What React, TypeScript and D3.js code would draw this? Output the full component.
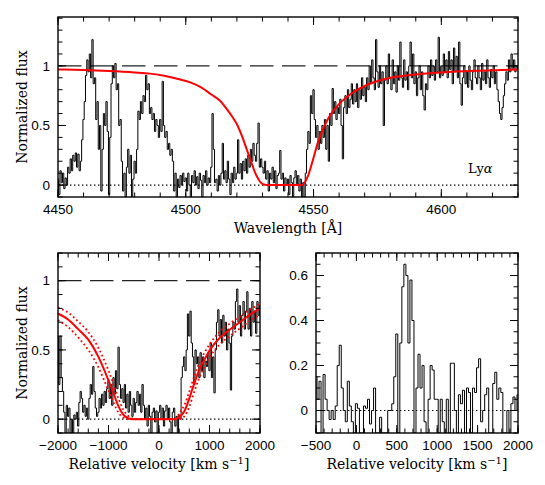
import React from "react";
import * as d3 from "d3";

// Observed spectrum, 0.5 A bins starting at 4450 A
const topStart = 4450;
const topStep = 0.5;
const topFluxBlue = [
  0.05, -0.08, 0.12, 0.02, 0.1, -0.03, 0.06, 0, 0.15, 0.1, 0.22, 0.12, 0.25, 0.2, 0.27, 0.15, 0.26, 0.12, 0.2, 0.38,
  0.55, 0.7, 0.92, 1.05, 0.95, 1.1, 0.9, 1.22, 0.85, 0.9, 0.55, 0.7, 0.3, 0.5, -0.05, 0.3, 0.6, 0.5, 0.7, 0.45,
  -0.08, 0.4, 0.85, 1.0, 0.9, 1.02, 0.8, 0.85, 0.5, 0.55, 0.2, -0.05, 0.1, -0.1, 0.15, 0.3, 0.1, 0.25, -0.1, 0.05,
  0.2, 0.1, 0.3, 0.62, 0.55, 0.7, 0.6, 0.75, 0.7, 0.92, 0.8, 0.85, 0.6, 0.65, 0.55, 0.6, 0.45, 0.55, 0.5, 0.4,
  0.55, 0.45, 0.87, 0.5, 0.4, 0.45, 0.3, 0.35, 0.25, 0.3, 0.2, -0.05, 0.1, -0.1, 0.05, -0.02, 0.08, 0, 0.1, 0.03,
  0.06, -0.05, 0.1, 0, -0.1, 0.08, 0.02, 0.12, 0, 0.07, -0.03, 0.1, 0.04, -0.1, 0.08, 0.02, 0.12, 0, 0.06, 0.02,
];
const topFluxCore = [
  0.15, 0.6, 0.3, 0.02, 0.05, -0.05, 0.08, 0, 0.1, 0.35, 0.05, 0.12, 0.02, 0.2, 0.05, -0.08, 0.1, 0.02, 0.15, 0.05,
  0.1, 0.38, 0.1, 0.18, 0.05, 0.2, 0.12, 0.22, 0.1, 0.25, 0.15, 0.3, 0.2, 0.35, 0.25, 0.2, 0.35, 0.52, 0.15, 0.22,
  0.15, 0.1, 0.2, 0.05, 0.12, -0.05, 0.1, 0.05, 0.15, 0.02, 0.12, -0.03, 0.08, 0.1, 0.29, 0.05, 0.1, -0.05, 0.06, 0,
  0.05, -0.08, 0.08, 0.02, -0.1, 0.06, 0.12, 0, 0.08, -0.05, 0.05, -0.1, 0.02, -0.1, 0.1, 0.3, 0.45, 0.35, 0.75, 0.6,
  0.8, 0.55, 0.4, 0.5, 0.3, 0.45, 0.35, 0.5, 0.4, 0.55, 0.3, 0.5, 0.2, 0.6, 0.5, 0.81, 0.6, 0.7, 0.55, 0.65,
  0.6, 0.72, 0.5, 0.22, 0.65, 0.75, 0.6, 0.8, 0.65, 0.72, 0.85, 0.68, 0.8, 0.7, 0.85, 0.65, 0.8, 0.72, 0.9, 0.75,
];
const topFluxRed = [
  0.82, 0.7, 0.9, 0.8, 1.0, 0.85, 1.05, 0.9, 0.8, 1.22, 0.95, 0.82, 1.0, 0.85, 0.95, 0.5, 0.88, 1.0, 0.85, 1.1,
  0.9, 0.8, 1.05, 0.85, 0.95, 0.78, 1.0, 0.88, 1.2, 0.9, 0.82, 1.05, 0.88, 0.95, 0.8, 1.0, 1.2, 0.9, 1.1, 0.85,
  0.95, 0.75, 0.9, 1.0, 0.8, 0.95, 0.75, 0.63, 0.85, 0.8, 1.0, 0.9, 1.05, 0.92, 1.0, 0.88, 1.05, 0.95, 1.24, 0.9,
  1.0, 0.92, 1.1, 0.95, 1.05, 0.9, 1.12, 0.97, 1.05, 0.85, 1.15, 0.95, 1.08, 0.9, 1.2, 0.85, 0.67, 0.9, 1.0, 0.85,
  0.95, 0.82, 1.0, 0.88, 0.8, 0.95, 1.05, 0.9, 0.85, 1.0, 0.9, 0.8, 1.02, 0.88, 0.95, 0.85, 1.05, 0.9, 0.82, 0.97,
  0.9, 1.0, 0.85, 0.95, 0.8, 0.7, 0.6, 0.55, 0.65, 0.75, 0.85, 0.95, 0.88, 1.05, 0.95, 1.1, 0.98, 1.05, 0.95, 1.0,
  0.97,
];

// Damped Lya fit (red)
const topModelWave = [4450, 4460, 4470, 4480, 4486, 4492, 4497, 4502, 4506, 4510, 4513.3, 4516, 4518, 4520, 4522, 4524, 4526, 4527, 4528, 4529, 4530, 4531, 4532, 4545.5, 4546.5, 4547.7, 4549.6, 4551.6, 4553.5, 4556, 4560, 4565, 4572, 4578, 4591, 4600, 4615, 4630];
const topModelFlux = [0.97, 0.965, 0.957, 0.945, 0.935, 0.915, 0.89, 0.86, 0.82, 0.76, 0.71, 0.64, 0.58, 0.51, 0.41, 0.29, 0.17, 0.11, 0.065, 0.03, 0.01, 0.002, 0, 0, 0.02, 0.07, 0.2, 0.35, 0.46, 0.57, 0.68, 0.77, 0.85, 0.89, 0.93, 0.945, 0.96, 0.97];

// Lya in velocity space, 25 km/s bins from -2000
const lyaVelStart = -2000;
const lyaVelStep = 25;
const lyaFlux = [
  0.6, 0.25, 0.6, 0.3, 0.2, 0.05, -0.1, 0.1, 0.02, 0.08,
  -0.1, 0, -0.1, 0.03, 0, 0.05, -0.05, 0.12, 0.2, 0.15,
  0.05, 0.1, 0.02, 0.08, 0, 0.15, 0.25, 0.18, 0.38, 0.2,
  0.08, 0.02, 0.05, 0.15, 0.08, 0.18, 0.1, 0.2, 0.12, 0.22,
  0.28, 0.15, 0.25, 0.1, 0.3, 0.18, 0.35, 0.22, 0.52, 0.25,
  0.15, 0.22, 0.12, 0.25, 0.08, 0.18, 0.05, 0.2, 0.1, 0.02,
  0.15, 0.05, 0.12, 0.2, 0.1, 0.18, 0.05, 0.25, 0.1, 0,
  0.08, -0.05, 0.1, 0.02, -0.1, 0.05, 0.08, -0.02, 0.06, -0.1,
  0.05, 0.1, 0, 0.08, -0.05, 0.06, 0.1, 0, 0.08, -0.02,
  -0.1, 0.05, 0.08, -0.05, 0.02, -0.1, 0.03, 0, 0.3, 0.38,
  0.45, 0.35, 0.5, 0.76, 0.6, 0.78, 0.55, 0.45, 0.25, 0.5,
  0.4, 0.45, 0.3, 0.48, 0.35, 0.45, 0.3, 0.42, 0.38, 0.48,
  0.35, 0.55, 0.3, 0.45, 0.19, 0.5, 0.7, 0.79, 0.6, 0.72,
  0.55, 0.75, 0.6, 0.7, 0.5, 0.65, 0.55, 0.21, 0.6, 0.7,
  0.65, 0.85, 0.94, 0.7, 0.82, 0.6, 0.75, 0.85, 0.65, 0.78,
  0.92, 0.65, 0.8, 0.6, 0.85, 0.7, 0.78, 0.62, 0.85, 0.75,
  0.82,
];
const lyaModelVel = [-2000, -1800, -1600, -1400, -1200, -1000, -900, -800, -700, -600, -500, -400, 0, 300, 400, 500, 600, 700, 800, 900, 1000, 1200, 1400, 1600, 1800, 2000];
const lyaModelBest = [0.763, 0.72, 0.65, 0.574, 0.45, 0.28, 0.186, 0.09, 0.03, 0.005, 0, 0, 0, 0, 0.015, 0.055, 0.15, 0.26, 0.36, 0.43, 0.495, 0.586, 0.646, 0.7, 0.755, 0.8];
const lyaModelLowN = [0.805, 0.77, 0.705, 0.63, 0.515, 0.35, 0.25, 0.145, 0.065, 0.02, 0.003, 0, 0, 0, 0.04, 0.1, 0.2, 0.31, 0.41, 0.48, 0.54, 0.63, 0.69, 0.74, 0.79, 0.835];
const lyaModelHighN = [0.715, 0.665, 0.59, 0.5, 0.375, 0.205, 0.12, 0.045, 0.01, 0, 0, 0, 0, 0, 0, 0.02, 0.09, 0.2, 0.3, 0.38, 0.445, 0.54, 0.6, 0.655, 0.71, 0.755];

// Metal line, 25 km/s bins from -500
const metalVelStart = -500;
const metalVelStep = 25;
const metalFlux = [
  0.15, 0.05, 0.13, -0.1, 0.16, 0.05, 0, -0.04, 0, -0.04,
  0.02, 0.2, 0.29, 0.1, 0, -0.05, 0.13, 0.02, -0.05, -0.1,
  0.03, 0.01, -0.1, -0.1, 0.02, 0.01, 0.05, -0.06, 0, 0.1,
  -0.1, -0.1, -0.03, -0.1, -0.1, -0.1, 0, 0, 0.03, 0.15,
  0.34, -0.1, 0.3, 0.55, 0.65, 0.6, 0.3, 0.58, 0.4, -0.1,
  0.1, 0.25, 0.1, 0.2, -0.05, -0.1, 0.05, 0.2, 0.18, 0.05,
  0.05, -0.1, 0.05, -0.05, -0.1, 0.05, -0.1, 0.21, 0.21, 0,
  -0.1, 0.07, 0.03, 0.09, -0.1, 0.1, 0.08, -0.1, 0.1, 0.08,
  0.19, 0.23, -0.05, 0, 0.07, 0.1, -0.1, -0.1, 0.12, 0.17,
  0.05, 0.1, 0.08, -0.1, -0.1, 0, -0.1, 0.03, 0.06, 0,
  0.07,
];

const TICK_FONT = "'Liberation Sans', Arial, sans-serif";
const TITLE_FONT = "'DejaVu Serif', serif";
const RED = "#ff0000";

const fmt = (v) => (v < 0 ? "\u2212" + Math.abs(v) : String(v));

function Axes({ id, x, y, xMajor, xMinor, yMajor, yMinor, children }) {
  const [l, r] = x.range();
  const [b, t] = y.range();
  const maj = 8;
  const min = 4.5;
  return (
    <g>
      <defs>
        <clipPath id={id}>
          <rect x={l} y={t} width={r - l} height={b - t} />
        </clipPath>
      </defs>
      <g clipPath={`url(#${id})`}>{children}</g>
      <g stroke="black" strokeWidth={1}>
        {xMinor.map((v) => (
          <g key={"xn" + v}>
            <line x1={x(v)} x2={x(v)} y1={b} y2={b - min} />
            <line x1={x(v)} x2={x(v)} y1={t} y2={t + min} />
          </g>
        ))}
        {xMajor.map((v) => (
          <g key={"xj" + v}>
            <line x1={x(v)} x2={x(v)} y1={b} y2={b - maj} />
            <line x1={x(v)} x2={x(v)} y1={t} y2={t + maj} />
          </g>
        ))}
        {yMinor.map((v) => (
          <g key={"yn" + v}>
            <line x1={l} x2={l + min} y1={y(v)} y2={y(v)} />
            <line x1={r} x2={r - min} y1={y(v)} y2={y(v)} />
          </g>
        ))}
        {yMajor.map((v) => (
          <g key={"yj" + v}>
            <line x1={l} x2={l + maj} y1={y(v)} y2={y(v)} />
            <line x1={r} x2={r - maj} y1={y(v)} y2={y(v)} />
          </g>
        ))}
      </g>
      <rect x={l} y={t} width={r - l} height={b - t} fill="none" stroke="black" strokeWidth={1.4} />
      <g fontFamily={TICK_FONT} fontSize={13.5} fill="black">
        {xMajor.map((v) => (
          <text key={"xl" + v} x={x(v)} y={b + 17} textAnchor="middle">{fmt(v)}</text>
        ))}
        {yMajor.map((v) => (
          <text key={"yl" + v} x={l - 8} y={y(v)} dy="0.35em" textAnchor="end">{fmt(v)}</text>
        ))}
      </g>
    </g>
  );
}

function VelTitle({ x, y }) {
  return (
    <text x={x} y={y} textAnchor="middle" fontFamily={TITLE_FONT} fontSize={14}>
      Relative velocity [km s<tspan dy={-5} fontSize={10}>{"\u22121"}</tspan><tspan dy={5}>]</tspan>
    </text>
  );
}

export default function App() {
  const topWave = topFluxBlue.concat(topFluxCore, topFluxRed).map((f, i) => [topStart + i * topStep, f]);
  const lyaPts = lyaFlux.map((f, i) => [lyaVelStart + i * lyaVelStep, f]);
  const metalPts = metalFlux.map((f, i) => [metalVelStart + i * metalVelStep, f]);

  const xTop = d3.scaleLinear().domain([4450, 4630]).range([58, 518]);
  const yTop = d3.scaleLinear().domain([-0.1, 1.41]).range([197, 17]);
  const xBL = d3.scaleLinear().domain([-2000, 2000]).range([58, 260]);
  const yBL = d3.scaleLinear().domain([-0.1, 1.2]).range([433, 253]);
  const xBR = d3.scaleLinear().domain([-500, 2000]).range([316, 518]);
  const yBR = d3.scaleLinear().domain([-0.1, 0.7]).range([433, 253]);

  const step = (x, y) => d3.line().x((d) => x(d[0])).y((d) => y(d[1])).curve(d3.curveStep);
  const smooth = (x, y) => d3.line().x((d) => x(d[0])).y((d) => y(d[1])).curve(d3.curveMonotoneX);

  const topModel = topModelWave.map((w, i) => [w, topModelFlux[i]]);
  const best = lyaModelVel.map((v, i) => [v, lyaModelBest[i]]);
  const lowN = lyaModelVel.map((v, i) => [v, lyaModelLowN[i]]);
  const highN = lyaModelVel.map((v, i) => [v, lyaModelHighN[i]]);

  const dash = "23.5 8.5";
  const dots = "1.4 2.6";

  return (
    <svg width={545} height={485} style={{ position: "absolute", left: 0, top: 0, background: "white" }}>
      <rect width={545} height={485} fill="white" />

      <Axes
        id="clipTop"
        x={xTop}
        y={yTop}
        xMajor={d3.range(4450, 4601, 50)}
        xMinor={d3.range(4450, 4631, 10)}
        yMajor={[0, 0.5, 1]}
        yMinor={d3.range(-1, 15).map((k) => k / 10)}
      >
        <line x1={58} x2={518} y1={yTop(1)} y2={yTop(1)} stroke="#222" strokeWidth={1.2} strokeDasharray={dash} />
        <line x1={58} x2={518} y1={yTop(0)} y2={yTop(0)} stroke="black" strokeWidth={1.2} strokeDasharray={dots} />
        <path d={step(xTop, yTop)(topWave)} fill="none" stroke="black" strokeWidth={1} />
        <path d={smooth(xTop, yTop)(topModel)} fill="none" stroke={RED} strokeWidth={2} />
      </Axes>
      <text x={468} y={173} fontFamily={TITLE_FONT} fontSize={13}>
        Ly<tspan fontStyle="italic">{"\u03b1"}</tspan>
      </text>
      <text x={288} y={233} textAnchor="middle" fontFamily={TITLE_FONT} fontSize={14}>
        Wavelength [{"\u00c5"}]
      </text>
      <text transform="translate(27,107) rotate(-90)" textAnchor="middle" fontFamily={TITLE_FONT} fontSize={14}>
        Normalized flux
      </text>

      <Axes
        id="clipBL"
        x={xBL}
        y={yBL}
        xMajor={d3.range(-2000, 2001, 1000)}
        xMinor={d3.range(-2000, 2001, 200)}
        yMajor={[0, 0.5, 1]}
        yMinor={d3.range(-1, 13).map((k) => k / 10)}
      >
        <line x1={58} x2={260} y1={yBL(1)} y2={yBL(1)} stroke="#222" strokeWidth={1.2} strokeDasharray={dash} />
        <line x1={58} x2={260} y1={yBL(0)} y2={yBL(0)} stroke="black" strokeWidth={1.2} strokeDasharray={dots} />
        <path d={step(xBL, yBL)(lyaPts)} fill="none" stroke="black" strokeWidth={1} />
        <path d={smooth(xBL, yBL)(lowN)} fill="none" stroke={RED} strokeWidth={1.8} strokeDasharray="1.8 2.6" />
        <path d={smooth(xBL, yBL)(highN)} fill="none" stroke={RED} strokeWidth={1.8} strokeDasharray="1.8 2.6" />
        <path d={smooth(xBL, yBL)(best)} fill="none" stroke={RED} strokeWidth={2} />
      </Axes>
      <VelTitle x={159} y={469} />
      <text transform="translate(27,343) rotate(-90)" textAnchor="middle" fontFamily={TITLE_FONT} fontSize={14}>
        Normalized flux
      </text>

      <Axes
        id="clipBR"
        x={xBR}
        y={yBR}
        xMajor={d3.range(-500, 2001, 500)}
        xMinor={d3.range(-500, 2001, 100)}
        yMajor={[0, 0.2, 0.4, 0.6]}
        yMinor={d3.range(-2, 15).map((k) => k / 20)}
      >
        <line x1={316} x2={518} y1={yBR(0)} y2={yBR(0)} stroke="black" strokeWidth={1.2} strokeDasharray={dots} />
        <path d={step(xBR, yBR)(metalPts)} fill="none" stroke="black" strokeWidth={1} />
      </Axes>
      <VelTitle x={417} y={469} />
    </svg>
  );
}
